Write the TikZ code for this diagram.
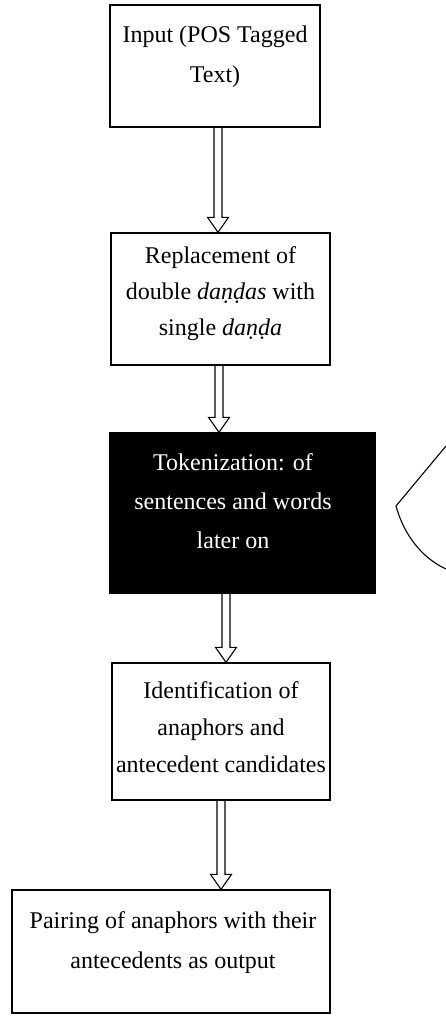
\documentclass[tikz,border=0pt]{standalone}
\usepackage{fontspec}
\setmainfont{Liberation Serif}
\usetikzlibrary{calc}
\newcommand{\blockarr}[3]{%
  \draw[arr] let \p1=(#1.south), \p2=(#2.north) in
    (#3pt-4pt,\y1) -- (#3pt-4pt,\y2+15pt) -- (#3pt-10.5pt,\y2+15pt) -- (#3pt,\y2)
    -- (#3pt+10.5pt,\y2+15pt) -- (#3pt+4pt,\y2+15pt) -- (#3pt+4pt,\y1);}
\begin{document}
\begin{tikzpicture}[x=1pt,y=-1pt,
  box/.style={draw, line width=1.3pt, inner sep=0pt},
  txt/.style={align=center, inner sep=0pt, anchor=north},
  arr/.style={draw, line width=1.1pt, line join=miter}]
\useasboundingbox (0,0) rectangle (446,1016);
% boxes
\node[box, minimum width=210pt, minimum height=122pt] (b1) at (215,66) {};
\node[txt, font=\fontsize{24}{40}\selectfont] (t1) at (215,26) {Input (POS Tagged\\Text)};
\node[box, minimum width=219pt, minimum height=132pt] (b2) at (220.5,299) {};
\node[txt, font=\fontsize{24}{36}\selectfont] (t2) at (220.5,246) {Replacement of\\double \textit{daṇḍas} with\\single \textit{daṇḍa}};
\node[box, fill=black, minimum width=265pt, minimum height=160pt] (b3) at (242.5,513) {};
\node[txt, text=white, font=\fontsize{24}{39}\selectfont] (t3) at (233,453) {Tokenization: of\\sentences and words\\later on};
\node[box, minimum width=218pt, minimum height=137pt] (b4) at (221,731.5) {};
\node[txt, font=\fontsize{24}{37}\selectfont] (t4) at (221,681.5) {Identification of\\anaphors and\\antecedent candidates};
\node[box, minimum width=318pt, minimum height=123pt] (b5) at (171,951.5) {};
\node[txt, font=\fontsize{24}{40}\selectfont] (t5) at (173,911) {Pairing of anaphors with their\\antecedents as output};
% arrows
\blockarr{b1}{b2}{218}
\blockarr{b2}{b3}{219}
\blockarr{b3}{b4}{226}
\blockarr{b4}{b5}{221}
% side curve
\draw[line width=1.1pt] (446,446) -- (396,506) .. controls (404,535) and (422,558) .. (446,569);
\end{tikzpicture}
\end{document}
